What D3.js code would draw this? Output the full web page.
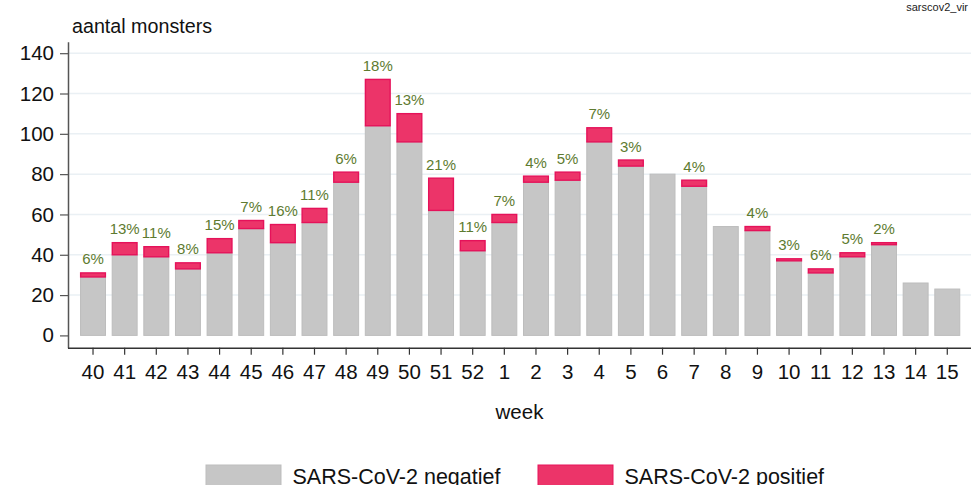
<!DOCTYPE html>
<html>
<head>
<meta charset="utf-8">
<script src="https://cdn.jsdelivr.net/npm/d3@7"></script>
<style>
  html, body { margin: 0; padding: 0; background: #fff; }
  svg { display: block; font-family: "Liberation Sans", Arial, sans-serif; }
</style>
</head>
<body>
<svg id="chart" width="971" height="485"></svg>
<script>
const weeks = ["40","41","42","43","44","45","46","47","48","49","50","51","52","1","2","3","4","5","6","7","8","9","10","11","12","13","14","15"];
const negatief = [29,40,39,33,41,53,46,56,76,104,96,62,42,56,76,77,96,84,80,74,54,52,37,31,39,45,26,23];
const positief = [2,6,5,3,7,4,9,7,5,23,14,16,5,4,3,4,7,3,0,3,0,2,1,2,2,1,0,0];
const yTicks = [0,20,40,60,80,100,120,140];
const seriesNames = ["SARS-CoV-2 negatief","SARS-CoV-2 positief"];

const svg = d3.select("#chart");
const mLeft = 68, mRight = 971, mTop = 41.7, mBottom = 347.7;

const x = d3.scaleBand().domain(weeks).range([77.2, 963.1]).paddingInner(0.18).paddingOuter(0.09);
const y = d3.scaleLinear().domain([-6.1, 145.7]).range([mBottom, mTop]);

// gridlines
svg.append("g").selectAll("line").data(yTicks.filter(d => d > 0)).join("line")
  .attr("x1", mLeft).attr("x2", mRight)
  .attr("y1", d => y(d)).attr("y2", d => y(d))
  .attr("stroke", "#eaf0f4").attr("stroke-width", 1.5);

// bars
const data = weeks.map((w, i) => ({ w, neg: negatief[i], pos: positief[i] }));
const bars = svg.append("g");
bars.selectAll("rect.neg").data(data).join("rect").attr("class", "neg")
  .attr("x", d => x(d.w) + 0.5).attr("width", x.bandwidth() - 1)
  .attr("y", d => y(d.neg)).attr("height", d => y(0) - y(d.neg))
  .attr("fill", "#c6c6c6").attr("stroke", "#bdbdbd").attr("stroke-width", 1);
bars.selectAll("rect.pos").data(data.filter(d => d.pos > 0)).join("rect").attr("class", "pos")
  .attr("x", d => x(d.w) + 0.6).attr("width", x.bandwidth() - 1.2)
  .attr("y", d => y(d.neg + d.pos)).attr("height", d => y(d.neg) - y(d.neg + d.pos))
  .attr("fill", "#ec3469").attr("stroke", "#e5125a").attr("stroke-width", 1.4);

// percent labels
svg.append("g").selectAll("text").data(data.filter(d => d.pos > 0)).join("text")
  .attr("x", d => x(d.w) + x.bandwidth() / 2)
  .attr("y", d => y(d.neg + d.pos) - 8.5)
  .attr("text-anchor", "middle")
  .attr("font-size", 15).attr("fill", "#5e7b30")
  .text(d => Math.round(100 * d.pos / (d.neg + d.pos)) + "%");

// y axis
const yAxis = svg.append("g").attr("transform", `translate(${mLeft},0)`)
  .call(d3.axisLeft(y).tickValues(yTicks).tickSize(8).tickPadding(6).tickSizeOuter(0));
yAxis.select(".domain").attr("stroke", "#555").attr("stroke-width", 1.5);
yAxis.selectAll(".tick line").attr("stroke", "#555").attr("stroke-width", 1.2);
yAxis.selectAll(".tick text").attr("font-size", 20.5).attr("fill", "#111").attr("font-family", "Liberation Sans, Arial, sans-serif");

// x axis
const xAxis = svg.append("g").attr("transform", `translate(0,${mBottom})`)
  .call(d3.axisBottom(x).tickSize(7).tickPadding(10).tickSizeOuter(0));
xAxis.select(".domain").attr("d", `M${mLeft},0.5H${mRight}`).attr("stroke", "#333").attr("stroke-width", 1.5);
xAxis.selectAll(".tick line").attr("stroke", "#333").attr("stroke-width", 1.2);
xAxis.selectAll(".tick text").attr("font-size", 20.5).attr("fill", "#111").attr("font-family", "Liberation Sans, Arial, sans-serif");

// titles
svg.append("text").attr("x", 72).attr("y", 33).attr("font-size", 19.7).attr("fill", "#111").text("aantal monsters");
svg.append("text").attr("x", (mLeft + mRight) / 2).attr("y", 419).attr("text-anchor", "middle")
  .attr("font-size", 20.5).attr("fill", "#111").text("week");
svg.append("text").attr("x", 968).attr("y", 11).attr("text-anchor", "end")
  .attr("font-size", 11).attr("fill", "#222").text("sarscov2_vir");

// legend
const legend = svg.append("g");
const legX = [206, 538];
const legFill = ["#c6c6c6", "#ec3469"];
const legStroke = ["#bdbdbd", "#e8125a"];
seriesNames.forEach((name, i) => {
  legend.append("rect").attr("x", legX[i]).attr("y", 465).attr("width", 75).attr("height", 26)
    .attr("fill", legFill[i]).attr("stroke", legStroke[i]);
  legend.append("text").attr("x", legX[i] + 86.5).attr("y", 484).attr("font-size", 21.5).attr("fill", "#111").text(name);
});
</script>
</body>
</html>
